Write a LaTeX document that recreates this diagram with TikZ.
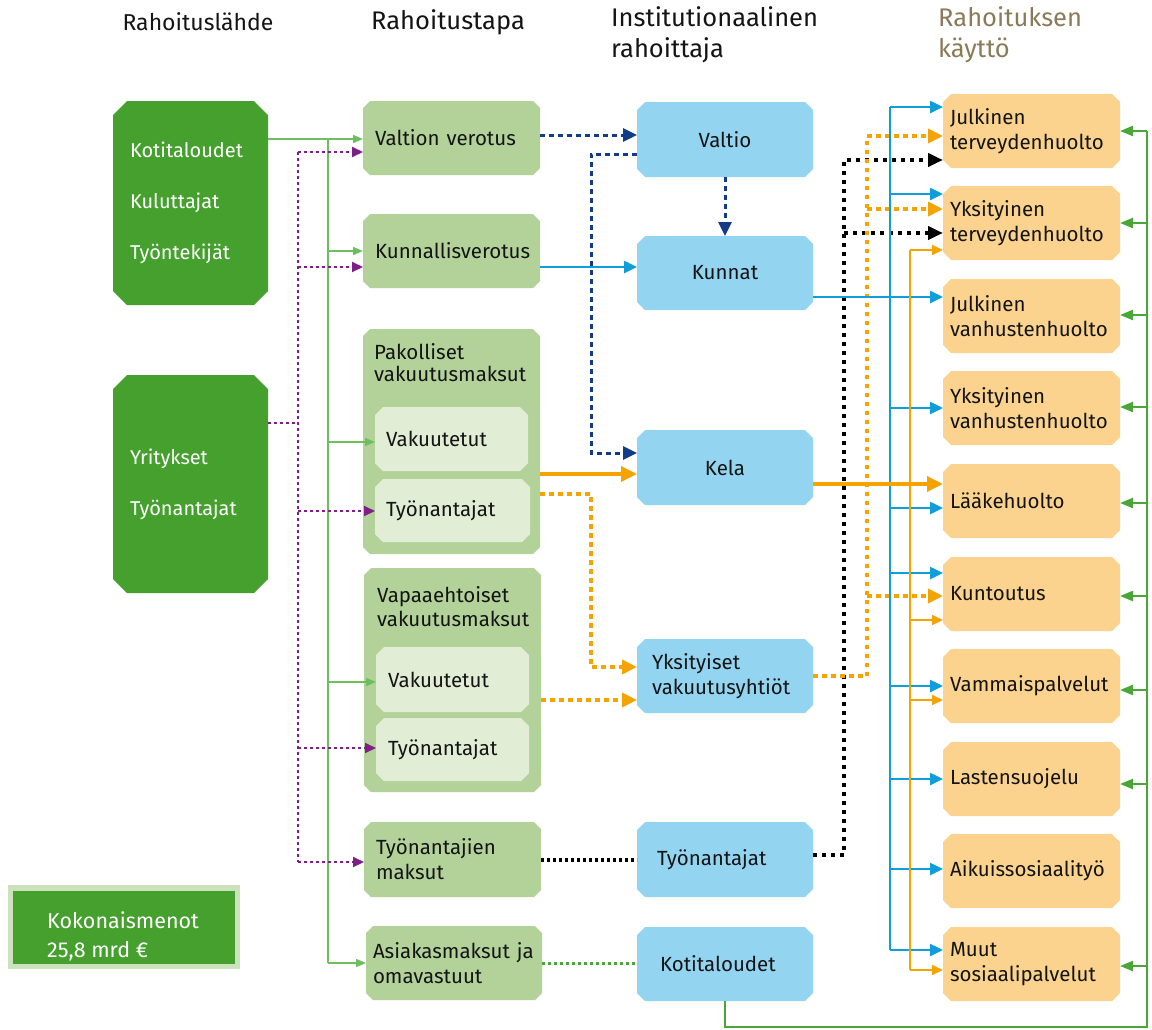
\documentclass[tikz,border=0pt]{standalone}
\usepackage{fontspec}
\setmainfont{Fira Sans}
\usetikzlibrary{arrows.meta}
\definecolor{dgreen}{HTML}{45A02E}
\definecolor{lgreen}{HTML}{B3D29A}
\definecolor{vlgreen}{HTML}{E2EDD6}
\definecolor{lblue}{HTML}{93D5F1}
\definecolor{lorange}{HTML}{FBD38E}
\definecolor{hbrown}{HTML}{8A7B58}
\definecolor{gline}{HTML}{6DBE5C}
\definecolor{gline2}{HTML}{4AA636}
\definecolor{purp}{HTML}{7E1F87}
\definecolor{dblue}{HTML}{133C88}
\definecolor{bline}{HTML}{0E9EDC}
\definecolor{oline}{HTML}{F4A300}
\definecolor{kborder}{HTML}{CBE2BC}
\definecolor{txt}{HTML}{141414}
\newcommand\bodyfont{\fontsize{20.5}{25}\selectfont}
\newcommand\headfont{\fontsize{25.5}{31}\selectfont}
% name, x1, y1, x2, y2, fill, chamfer, node options, text
\newcommand\cbox[9]{%
  \fill[#6] (#2+#7,#3) -- (#4-#7,#3) -- (#4,#3+#7) -- (#4,#5-#7) -- (#4-#7,#5) -- (#2+#7,#5) -- (#2,#5-#7) -- (#2,#3+#7) -- cycle;
  \node[inner sep=0pt, outer sep=0pt, minimum width={(#4-#2)*1pt}, minimum height={(#5-#3)*1pt}, text=txt, font=\bodyfont, #8] (#1) at ({(#2+#4)/2},{(#3+#5)/2}) {#9};
}
\tikzset{
  lt/.style={text width={#1*1pt}, align=left},
  ct/.style={align=center},
  gl/.style={draw=gline, line width=1.5pt, -{Triangle[length=10pt,width=8pt]}, fill=none},
  pu/.style={draw=purp, line width=2pt, dash pattern=on 3pt off 3pt, -{Triangle[length=11pt,width=10pt,fill=purp]}},
  db/.style={draw=dblue, line width=3pt, dash pattern=on 5pt off 4pt, -{Triangle[length=14pt,width=13pt,fill=dblue]}},
  bl/.style={draw=bline, line width=2.5pt, -{Triangle[length=13pt,width=12pt]}},
  ot/.style={draw=oline, line width=3.5pt, -{Triangle[length=16pt,width=15pt]}},
  on/.style={draw=oline, line width=2pt, -{Triangle[length=11pt,width=10pt]}},
  od/.style={draw=oline, line width=4.5pt, dash pattern=on 4.5pt off 4.5pt, -{Triangle[length=15pt,width=14pt,fill=oline]}},
  kd/.style={draw=black, line width=3.5pt, dash pattern=on 3pt off 3pt},
  kd2/.style={draw=black, line width=4pt, dash pattern=on 4pt off 5pt, -{Triangle[length=15pt,width=13pt,fill=black]}},
  gd/.style={draw=gline2, line width=3pt, dash pattern=on 3pt off 3pt},
  gr/.style={draw=gline2, line width=2.3pt, -{Triangle[length=13pt,width=10pt]}},
  head/.style={font=\headfont, text=txt, inner sep=0pt},
}
\begin{document}
\begin{tikzpicture}[x=1pt,y=-1pt]
\useasboundingbox (0,0) rectangle (1152,1029);
% headers
\node[head, font=\fontsize{23}{31}\selectfont] (h1) at (198,22) {Rahoituslähde};
\node[head] (h2) at (448,22) {Rahoitustapa};
\node[head, anchor=north west, align=left] (h3) at (611,6) {Institutionaalinen\\rahoittaja};
\node[head, anchor=north west, align=left, text=hbrown] (h4) at (938,6) {Rahoituksen\\käyttö};
% sources
\cbox{src1}{113}{101}{268}{305}{dgreen}{14}{lt=121, text=white, font=\fontsize{20}{51}\selectfont}{Kotitaloudet\\Kuluttajat\\Työntekijät}
\cbox{src2}{113}{375}{268}{593}{dgreen}{14}{lt=121, text=white, font=\fontsize{20}{51}\selectfont}{Yritykset\\Työnantajat}
% total
\fill[kborder] (8,885) rectangle (240,969);
\node[fill=dgreen, inner sep=0pt, minimum width=222pt, minimum height=73pt] (km) at (124,927) {};
\node[anchor=west, align=left, text=white, font=\fontsize{21.5}{29}\selectfont, inner sep=0pt] (kmt) at (47,936) {Kokonaismenot\\25,8 mrd €};
% column 2
\cbox{vv}{363}{101}{540}{175}{lgreen}{7}{lt=153}{Valtion verotus}
\cbox{kv}{363}{214}{540}{288}{lgreen}{7}{lt=153}{Kunnallisverotus}
\cbox{pak}{363}{329}{540}{554}{lgreen}{7}{}{}
\node[anchor=west, align=left, font=\fontsize{20.5}{22}\selectfont, text=txt, inner sep=0pt] (pakt) at (374,363) {Pakolliset\\vakuutusmaksut};
\cbox{pv}{375}{407}{528}{471}{vlgreen}{8}{lt=131}{Vakuutetut}
\cbox{pt}{375}{479}{530}{542}{vlgreen}{8}{lt=133}{Työnantajat}
\cbox{vap}{364}{568}{541}{792}{lgreen}{7}{}{}
\node[anchor=west, align=left, font=\fontsize{20.5}{24}\selectfont, text=txt, inner sep=0pt] (vapt) at (377,607) {Vapaaehtoiset\\vakuutusmaksut};
\cbox{vav}{376}{647}{529}{712}{vlgreen}{8}{lt=129}{Vakuutetut}
\cbox{vat}{376}{718}{529}{781}{vlgreen}{8}{lt=129}{Työnantajat}
\cbox{tm}{364}{822}{541}{897}{lgreen}{7}{lt=153}{Työnantajien\\maksut}
\cbox{am}{366}{926}{542}{1000}{lgreen}{7}{lt=162}{Asiakasmaksut ja\\omavastuut}
% column 3
\cbox{valtio}{637}{102}{813}{177}{lblue}{8}{ct}{Valtio}
\cbox{kunnat}{637}{236}{813}{310}{lblue}{8}{ct}{Kunnat}
\cbox{kela}{637}{430}{813}{505}{lblue}{8}{ct}{Kela}
\cbox{yv}{637}{639}{813}{713}{lblue}{8}{lt=146}{Yksityiset\\vakuutusyhtiöt}
\cbox{ta}{637}{822}{813}{897}{lblue}{8}{lt=136}{Työnantajat}
\cbox{kt}{637}{927}{813}{1001}{lblue}{8}{lt=130}{Kotitaloudet}
% column 4
\cbox{jt}{943}{94}{1120}{168}{lorange}{8}{lt=163}{Julkinen\\terveydenhuolto}
\cbox{yt}{943}{186}{1120}{260}{lorange}{8}{lt=163}{Yksityinen\\terveydenhuolto}
\cbox{jv}{943}{279}{1120}{353}{lorange}{8}{lt=163}{Julkinen\\vanhustenhuolto}
\cbox{yvh}{943}{371}{1120}{445}{lorange}{8}{lt=163}{Yksityinen\\vanhustenhuolto}
\cbox{lh}{943}{464}{1120}{538}{lorange}{8}{lt=163}{Lääkehuolto}
\cbox{ku}{943}{557}{1120}{631}{lorange}{8}{lt=163}{Kuntoutus}
\cbox{va}{943}{649}{1120}{723}{lorange}{8}{lt=163}{Vammaispalvelut}
\cbox{ls}{943}{742}{1120}{816}{lorange}{8}{lt=163}{Lastensuojelu}
\cbox{as}{943}{834}{1120}{908}{lorange}{8}{lt=163}{Aikuissosiaalityö}
\cbox{ms}{943}{927}{1120}{1001}{lorange}{8}{lt=163}{Muut\\sosiaalipalvelut}
% left green connectors
\draw[gl] (src1.east |- 0,139) -- (vv.west |- 0,139);
\draw[draw=gline, line width=1.5pt] (328,139) -- (328,963);
\draw[gl] (328,251) -- (kv.west |- 0,251);
\draw[gl] (328,442) -- (pv.west |- 0,442);
\draw[gl] (328,682) -- (vav.west |- 0,682);
\draw[gl] (328,963) -- (am.west |- 0,963);
% purple
\draw[draw=purp, line width=2pt, dash pattern=on 3pt off 3pt] (src2.east |- 0,423) -- (298,423);
\draw[draw=purp, line width=2pt, dash pattern=on 3pt off 3pt] (298,152) -- (298,862);
\draw[pu] (298,152) -- (vv.west |- 0,152);
\draw[pu] (298,267) -- (kv.west |- 0,267);
\draw[pu] (298,511) -- (pt.west |- 0,511);
\draw[pu] (298,748) -- (vat.west |- 0,748);
\draw[pu] (298,862) -- (tm.west |- 0,862);
% dark blue
\draw[db] (vv.east |- 0,135) -- (valtio.west |- 0,135);
\draw[db] (valtio.west |- 0,154) -- (591,154) -- (591,453) -- (kela.west |- 0,453);
\draw[db] (valtio.south) -- (kunnat.north);
% black
\draw[kd] (tm.east |- 0,860) -- (ta.west |- 0,860);
\draw[kd2] (ta.east |- 0,855) -- (844,855) -- (844,160) -- (jt.west |- 0,160);
\draw[kd2] (844,233) -- (yt.west |- 0,233);
% orange dotted
\draw[od] (pak.east |- 0,494) -- (591,494) -- (591,667) -- (yv.west |- 0,667);
\draw[od] (vap.east |- 0,700) -- (yv.west |- 0,700);
\draw[od] (yv.east |- 0,676) -- (867,676) -- (867,136) -- (jt.west |- 0,136);
\draw[od] (867,209) -- (yt.west |- 0,209);
\draw[od] (867,596) -- (ku.west |- 0,596);
% blue solid
\draw[bl] (kv.east |- 0,267) -- (kunnat.west |- 0,267);
\draw[bl] (kunnat.east |- 0,297) -- (jv.west |- 0,297);
\draw[draw=bline, line width=2.5pt] (890,107) -- (890,950);
\draw[bl] (890,107) -- (jt.west |- 0,107);
\draw[bl] (890,194) -- (yt.west |- 0,194);
\draw[bl] (890,408) -- (yvh.west |- 0,408);
\draw[bl] (890,508) -- (lh.west |- 0,508);
\draw[bl] (890,573) -- (ku.west |- 0,573);
\draw[bl] (890,686) -- (va.west |- 0,686);
\draw[bl] (890,779) -- (ls.west |- 0,779);
\draw[bl] (890,869) -- (as.west |- 0,869);
\draw[bl] (890,950) -- (ms.west |- 0,950);
% orange solid
\draw[ot] (pak.east |- 0,474) -- (kela.west |- 0,474);
\draw[draw=oline, line width=2pt] (910,250) -- (910,970);
\draw[ot] (kela.east |- 0,484) -- (lh.west |- 0,484);
\draw[on] (910,250) -- (yt.west |- 0,250);
\draw[on] (910,620) -- (ku.west |- 0,620);
\draw[on] (910,700) -- (va.west |- 0,700);
\draw[on] (910,970) -- (ms.west |- 0,970);
% green dotted and right bus
\draw[gd] (am.east |- 0,963) -- (kt.west |- 0,963);
\draw[draw=gline2, line width=2.3pt] (kt.south) -- (725,1027) -- (1147,1027) -- (1147,131);
\draw[gr] (1147,131) -- (jt.east |- 0,131);
\draw[gr] (1147,223) -- (yt.east |- 0,223);
\draw[gr] (1147,315) -- (jv.east |- 0,315);
\draw[gr] (1147,407) -- (yvh.east |- 0,407);
\draw[gr] (1147,503) -- (lh.east |- 0,503);
\draw[gr] (1147,596) -- (ku.east |- 0,596);
\draw[gr] (1147,690) -- (va.east |- 0,690);
\draw[gr] (1147,784) -- (ls.east |- 0,784);
\draw[gr] (1147,966) -- (ms.east |- 0,966);
\end{tikzpicture}
\end{document}
